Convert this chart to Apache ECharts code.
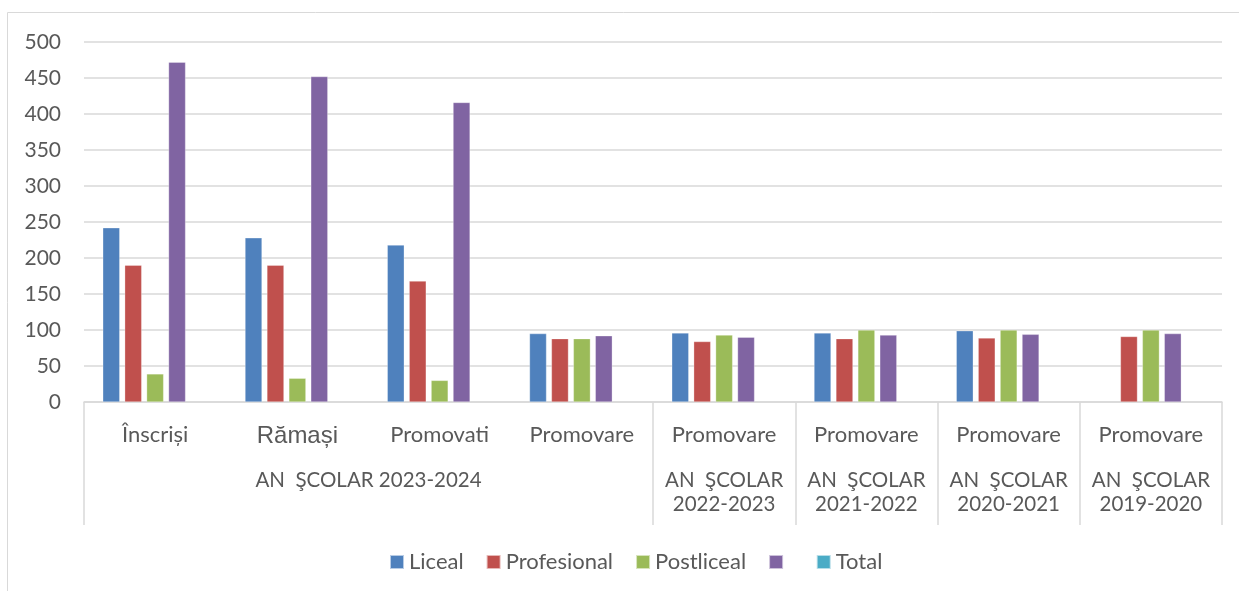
<!DOCTYPE html>
<html>
<head>
<meta charset="utf-8">
<script src="https://cdn.jsdelivr.net/npm/echarts@6/dist/echarts.min.js"></script>
<style>
  html, body { margin: 0; padding: 0; background: #fff; }
  #chart { width: 1239px; height: 591px; }
</style>
</head>
<body>
<div id="chart"></div>
<script>
// Categories (first level) and groups (second level)
var categories = ['Înscriși', 'Rămași', 'Promovati', 'Promovare', 'Promovare', 'Promovare', 'Promovare', 'Promovare'];
var groupLabels = ['AN  ŞCOLAR 2023-2024', 'AN  ŞCOLAR\n2022-2023', 'AN  ŞCOLAR\n2021-2022', 'AN  ŞCOLAR\n2020-2021', 'AN  ŞCOLAR\n2019-2020'];
var groupSpans = [4, 1, 1, 1, 1];

// Series values
var liceal      = [242, 228, 218, 95, 96, 96, 99, '-'];
var profesional = [190, 190, 168, 88, 84, 88, 89, 91];
var postliceal  = [39, 33, 30, 88, 93, 100, 100, 100];
var unnamed     = [472, 452, 416, 92, 90, 93, 94, 95];
var total       = ['-', '-', '-', '-', '-', '-', '-', '-'];

var yTicks = [0, 50, 100, 150, 200, 250, 300, 350, 400, 450, 500];

// group boundaries and centers on a 0..n scale
var bounds = [0], centers = [];
groupSpans.forEach(function (s) {
    var last = bounds[bounds.length - 1];
    centers.push(last + s / 2);
    bounds.push(last + s);
});

var textColor = '#595959';
var gridColor = '#d9d9d9';
var font = 'Lato';

// "Rămași" uses a different font in the original
var catData = categories.map(function (c, i) {
    if (i === 1) return { value: c, textStyle: { fontSize: 24, fontFamily: 'Liberation Sans' } };
    return c;
});

var chart = echarts.init(document.getElementById('chart'));

var barBase = {
    type: 'bar',
    barWidth: 17,
    barGap: '29%',
    xAxisIndex: 0,
    itemStyle: { borderColor: 'rgba(255,255,255,0.6)', borderWidth: 0.5 }
};

function mkSeries(name, data, color) {
    return Object.assign({}, barBase, { name: name, data: data, itemStyle: Object.assign({}, barBase.itemStyle, { color: color }) });
}

var option = {
    animation: false,
    textStyle: { fontFamily: font },
    graphic: [{
        type: 'rect',
        shape: { x: 7.5, y: 12.5, width: 1400, height: 800 },
        style: { fill: 'none', stroke: gridColor, lineWidth: 1 },
        silent: true
    }],
    grid: { left: 84, right: 17, top: 42, bottom: 189 },
    legend: {
        top: 546,
        left: 384,
        itemWidth: 14,
        itemHeight: 14,
        itemGap: 22,
        icon: 'rect',
        textStyle: { color: textColor, fontSize: 22, fontFamily: font },
        data: ['Liceal', 'Profesional', 'Postliceal', ' ', 'Total']
    },
    xAxis: [{
        type: 'category',
        data: catData,
        position: 'bottom',
        axisLine: { lineStyle: { color: gridColor, width: 1.5 } },
        axisTick: { show: false },
        axisLabel: { color: textColor, fontSize: 22, margin: 22, interval: 0 }
    }, {
        type: 'value',
        min: 0,
        max: categories.length,
        position: 'bottom',
        axisLine: { show: false },
        splitLine: { show: false },
        axisTick: {
            show: true,
            customValues: bounds,
            length: 123,
            lineStyle: { color: gridColor, width: 1.5 }
        },
        axisLabel: {
            color: textColor, fontSize: 20.5, margin: 66, lineHeight: 24,
            customValues: centers,
            formatter: function (v) {
                var i = centers.indexOf(v);
                return i >= 0 ? groupLabels[i] : '';
            }
        }
    }],
    yAxis: {
        type: 'value',
        min: 0,
        max: 500,
        interval: 50,
        axisLine: { show: false },
        axisTick: { show: false },
        splitLine: { lineStyle: { color: gridColor, width: 1.5 } },
        axisLabel: {
            color: textColor, fontSize: 21, margin: 23,
            customValues: yTicks
        }
    },
    series: [
        mkSeries('Liceal', liceal, '#4f81bd'),
        mkSeries('Profesional', profesional, '#c0504d'),
        mkSeries('Postliceal', postliceal, '#9bbb59'),
        mkSeries(' ', unnamed, '#8064a2'),
        mkSeries('Total', total, '#4bacc6')
    ]
};

chart.setOption(option);
</script>
</body>
</html>
